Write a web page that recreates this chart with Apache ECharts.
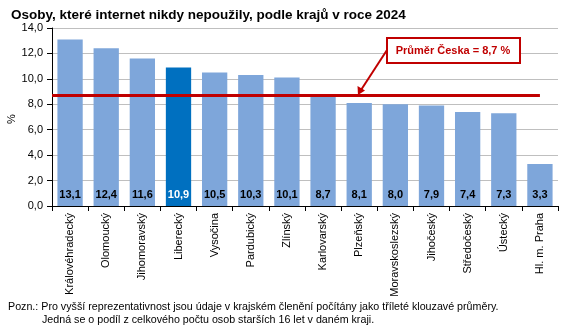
<!DOCTYPE html>
<html><head><meta charset="utf-8">
<script src="https://cdn.jsdelivr.net/npm/echarts@6/dist/echarts.min.js"></script>
<style>html,body{margin:0;padding:0;background:#fff}#c{width:565px;height:331px}</style>
</head><body><div id="c"></div>
<script>
const categories = ["Královéhradecký","Olomoucký","Jihomoravský","Liberecký","Vysočina","Pardubický","Zlínský","Karlovarský","Plzeňský","Moravskoslezský","Jihočeský","Středočeský","Ústecký","Hl. m. Praha"];
const values = [13.1,12.4,11.6,10.9,10.5,10.3,10.1,8.7,8.1,8.0,7.9,7.4,7.3,3.3];
const highlight = "Liberecký";
const average = 8.7;
const avgLabel = "Průměr Česka = 8,7 %";
const yTicks = {min:0, max:14, interval:2};
const yName = "%";
const title = "Osoby, které internet nikdy nepoužily, podle krajů v roce 2024";
const note1 = "Pozn.: Pro vyšší reprezentativnost jsou údaje v krajském členění počítány jako tříleté klouzavé průměry.";
const note2 = "Jedná se o podíl z celkového počtu osob starších 16 let v daném kraji.";

const fmt = v => v.toFixed(1).replace('.', ',');
const chart = echarts.init(document.getElementById('c'), null, {renderer:'canvas'});
const F = 'Liberation Sans, Arial, sans-serif';
const n = categories.length;
chart.setOption({
  animation:false,
  textStyle:{fontFamily:F},
  title:{text:title,left:6,top:3,textStyle:{fontFamily:F,fontSize:13.5,fontWeight:'bold',color:'#000'}},
  grid:{left:52,right:7,top:28,bottom:125,containLabel:false,outerBoundsMode:'none'},
  xAxis:[{type:'category',data:categories,
    axisLine:{lineStyle:{color:'#000'}},
    axisTick:{show:true,alignWithLabel:false,length:5,lineStyle:{color:'#000'}},
    axisLabel:{rotate:90,interval:0,fontSize:11,color:'#000',margin:7,fontFamily:F}},
   {type:'value',min:-0.5,max:n-0.5,position:'bottom',show:false,
    axisLine:{show:false,onZero:false},axisTick:{show:false},axisLabel:{show:false},splitLine:{show:false}}],
  yAxis:{type:'value',min:yTicks.min,max:yTicks.max,interval:yTicks.interval,
    axisLine:{show:true,onZero:false,lineStyle:{color:'#000'}},
    axisTick:{show:true,length:5,lineStyle:{color:'#000'}},
    axisLabel:{formatter:v=>fmt(v),fontSize:11,color:'#000',margin:9,fontFamily:F},
    splitLine:{lineStyle:{color:'#BFBFBF'}}},
  series:[{type:'bar',barWidth:'70%',
    data:values.map((v,i)=>({value:v,itemStyle:{color:categories[i]===highlight?'#0070C0':'#7EA6DA'},
      label:{color:categories[i]===highlight?'#fff':'#000'}})),
    label:{show:true,position:'insideBottom',distance:6,formatter:p=>fmt(p.value),fontSize:11,fontWeight:'bold',fontFamily:F}},
   {type:'line',xAxisIndex:1,clip:false,data:[[-0.5,average],[n-1,average]],symbol:'none',
    lineStyle:{color:'#C00000',width:3},z:5}],
  graphic:[
    {type:'text',x:12,y:119,rotation:Math.PI/2,style:{text:yName,fill:'#000',font:'11px '+F,align:'center',verticalAlign:'middle'},z:10},
    {type:'rect',shape:{x:387,y:38,width:133,height:25},style:{fill:'#fff',stroke:'#C00000',lineWidth:2},z:10},
    {type:'text',x:453,y:50.5,style:{text:avgLabel,fill:'#C00000',font:'bold 11px '+F,align:'center',verticalAlign:'middle'},z:11},
    {type:'line',shape:{x1:387,y1:50,x2:361,y2:90},style:{stroke:'#C00000',lineWidth:2},z:10},
    {type:'polygon',shape:{points:[[358,95],[357.5,86],[365,90.5]]},style:{fill:'#C00000'},z:10},
    {type:'text',x:8,y:302,style:{text:note1,fill:'#000',font:'10.7px '+F},z:10},
    {type:'text',x:42,y:315,style:{text:note2,fill:'#000',font:'10.7px '+F},z:10}
  ]
});
</script></body></html>
